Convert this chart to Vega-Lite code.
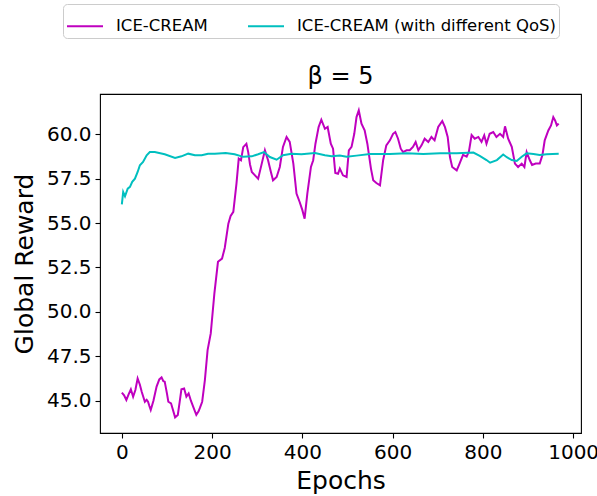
{
  "$schema": "https://vega.github.io/schema/vega-lite/v6.json",
  "width": 481,
  "height": 339,
  "autosize": "none",
  "padding": {"left": 100, "top": 94, "right": 16, "bottom": 63},
  "background": "white",
  "title": {"text": "β = 5", "fontSize": 24, "font": "DejaVu Sans", "fontWeight": "normal", "color": "black", "offset": -85, "anchor": "middle", "frame": "group"},
  "data": {"values": [
    {"s":"ICE-CREAM","e":0,"v":45.45},{"s":"ICE-CREAM","e":5,"v":45.3},{"s":"ICE-CREAM","e":10,"v":45.04},{"s":"ICE-CREAM","e":15,"v":45.35},{"s":"ICE-CREAM","e":20,"v":45.64},{"s":"ICE-CREAM","e":25,"v":45.22},{"s":"ICE-CREAM","e":30,"v":45.6},{"s":"ICE-CREAM","e":35,"v":46.25},{"s":"ICE-CREAM","e":40,"v":45.9},{"s":"ICE-CREAM","e":44,"v":45.5},{"s":"ICE-CREAM","e":51,"v":44.94},{"s":"ICE-CREAM","e":55,"v":45.05},{"s":"ICE-CREAM","e":58,"v":44.94},{"s":"ICE-CREAM","e":61,"v":44.7},{"s":"ICE-CREAM","e":64,"v":44.48},{"s":"ICE-CREAM","e":70,"v":45.0},{"s":"ICE-CREAM","e":77,"v":45.79},{"s":"ICE-CREAM","e":83,"v":46.2},{"s":"ICE-CREAM","e":88,"v":46.31},{"s":"ICE-CREAM","e":92,"v":46.1},{"s":"ICE-CREAM","e":95,"v":46.07},{"s":"ICE-CREAM","e":100,"v":45.4},{"s":"ICE-CREAM","e":103,"v":44.94},{"s":"ICE-CREAM","e":109,"v":44.85},{"s":"ICE-CREAM","e":113,"v":44.5},{"s":"ICE-CREAM","e":118,"v":44.06},{"s":"ICE-CREAM","e":124,"v":44.2},{"s":"ICE-CREAM","e":128,"v":44.9},{"s":"ICE-CREAM","e":132,"v":45.64},{"s":"ICE-CREAM","e":138,"v":45.69},{"s":"ICE-CREAM","e":143,"v":45.23},{"s":"ICE-CREAM","e":148,"v":45.41},{"s":"ICE-CREAM","e":153,"v":45.0},{"s":"ICE-CREAM","e":158,"v":44.66},{"s":"ICE-CREAM","e":165,"v":44.2},{"s":"ICE-CREAM","e":170,"v":44.4},{"s":"ICE-CREAM","e":173,"v":44.59},{"s":"ICE-CREAM","e":178,"v":44.94},{"s":"ICE-CREAM","e":184,"v":46.16},{"s":"ICE-CREAM","e":190,"v":47.85},{"s":"ICE-CREAM","e":197,"v":48.79},{"s":"ICE-CREAM","e":205,"v":51.03},{"s":"ICE-CREAM","e":213,"v":52.82},{"s":"ICE-CREAM","e":222,"v":53.0},{"s":"ICE-CREAM","e":228,"v":53.6},{"s":"ICE-CREAM","e":236,"v":54.97},{"s":"ICE-CREAM","e":241,"v":55.4},{"s":"ICE-CREAM","e":247,"v":55.63},{"s":"ICE-CREAM","e":254,"v":57.22},{"s":"ICE-CREAM","e":259,"v":58.63},{"s":"ICE-CREAM","e":264,"v":58.54},{"s":"ICE-CREAM","e":269,"v":59.28},{"s":"ICE-CREAM","e":276,"v":59.47},{"s":"ICE-CREAM","e":280,"v":59.0},{"s":"ICE-CREAM","e":284,"v":58.3},{"s":"ICE-CREAM","e":288,"v":57.88},{"s":"ICE-CREAM","e":295,"v":57.69},{"s":"ICE-CREAM","e":302,"v":57.5},{"s":"ICE-CREAM","e":310,"v":58.35},{"s":"ICE-CREAM","e":317,"v":59.1},{"s":"ICE-CREAM","e":324,"v":58.54},{"s":"ICE-CREAM","e":330,"v":57.9},{"s":"ICE-CREAM","e":335,"v":57.41},{"s":"ICE-CREAM","e":343,"v":57.6},{"s":"ICE-CREAM","e":350,"v":58.16},{"s":"ICE-CREAM","e":357,"v":59.29},{"s":"ICE-CREAM","e":365,"v":59.85},{"s":"ICE-CREAM","e":372,"v":59.57},{"s":"ICE-CREAM","e":380,"v":58.35},{"s":"ICE-CREAM","e":387,"v":56.66},{"s":"ICE-CREAM","e":394,"v":56.19},{"s":"ICE-CREAM","e":400,"v":55.73},{"s":"ICE-CREAM","e":405,"v":55.25},{"s":"ICE-CREAM","e":411,"v":56.66},{"s":"ICE-CREAM","e":419,"v":58.16},{"s":"ICE-CREAM","e":424,"v":58.54},{"s":"ICE-CREAM","e":429,"v":59.47},{"s":"ICE-CREAM","e":436,"v":60.41},{"s":"ICE-CREAM","e":442,"v":60.82},{"s":"ICE-CREAM","e":450,"v":60.31},{"s":"ICE-CREAM","e":456,"v":60.41},{"s":"ICE-CREAM","e":463,"v":59.47},{"s":"ICE-CREAM","e":468,"v":59.19},{"s":"ICE-CREAM","e":473,"v":57.82},{"s":"ICE-CREAM","e":479,"v":57.78},{"s":"ICE-CREAM","e":483,"v":58.07},{"s":"ICE-CREAM","e":490,"v":57.69},{"s":"ICE-CREAM","e":498,"v":57.6},{"s":"ICE-CREAM","e":503,"v":59.1},{"s":"ICE-CREAM","e":509,"v":59.29},{"s":"ICE-CREAM","e":515,"v":60.03},{"s":"ICE-CREAM","e":520,"v":60.97},{"s":"ICE-CREAM","e":525,"v":61.35},{"s":"ICE-CREAM","e":531,"v":60.6},{"s":"ICE-CREAM","e":538,"v":60.22},{"s":"ICE-CREAM","e":544,"v":59.47},{"s":"ICE-CREAM","e":552,"v":58.07},{"s":"ICE-CREAM","e":557,"v":57.41},{"s":"ICE-CREAM","e":564,"v":57.26},{"s":"ICE-CREAM","e":572,"v":57.13},{"s":"ICE-CREAM","e":579,"v":58.54},{"s":"ICE-CREAM","e":586,"v":59.38},{"s":"ICE-CREAM","e":594,"v":59.66},{"s":"ICE-CREAM","e":601,"v":60.03},{"s":"ICE-CREAM","e":606,"v":60.13},{"s":"ICE-CREAM","e":612,"v":59.75},{"s":"ICE-CREAM","e":618,"v":59.19},{"s":"ICE-CREAM","e":623,"v":59.0},{"s":"ICE-CREAM","e":631,"v":59.1},{"s":"ICE-CREAM","e":638,"v":59.1},{"s":"ICE-CREAM","e":645,"v":59.29},{"s":"ICE-CREAM","e":651,"v":59.57},{"s":"ICE-CREAM","e":657,"v":59.1},{"s":"ICE-CREAM","e":664,"v":59.38},{"s":"ICE-CREAM","e":671,"v":59.75},{"s":"ICE-CREAM","e":679,"v":59.57},{"s":"ICE-CREAM","e":686,"v":59.85},{"s":"ICE-CREAM","e":693,"v":59.66},{"s":"ICE-CREAM","e":701,"v":60.41},{"s":"ICE-CREAM","e":710,"v":60.75},{"s":"ICE-CREAM","e":716,"v":60.4},{"s":"ICE-CREAM","e":722,"v":59.85},{"s":"ICE-CREAM","e":727,"v":58.72},{"s":"ICE-CREAM","e":732,"v":58.16},{"s":"ICE-CREAM","e":742,"v":57.97},{"s":"ICE-CREAM","e":747,"v":58.27},{"s":"ICE-CREAM","e":756,"v":58.84},{"s":"ICE-CREAM","e":764,"v":58.74},{"s":"ICE-CREAM","e":769,"v":59.02},{"s":"ICE-CREAM","e":775,"v":59.96},{"s":"ICE-CREAM","e":782,"v":59.75},{"s":"ICE-CREAM","e":790,"v":59.85},{"s":"ICE-CREAM","e":797,"v":59.57},{"s":"ICE-CREAM","e":803,"v":59.94},{"s":"ICE-CREAM","e":808,"v":59.47},{"s":"ICE-CREAM","e":815,"v":60.03},{"s":"ICE-CREAM","e":823,"v":60.13},{"s":"ICE-CREAM","e":830,"v":59.85},{"s":"ICE-CREAM","e":838,"v":60.03},{"s":"ICE-CREAM","e":845,"v":59.85},{"s":"ICE-CREAM","e":849,"v":60.45},{"s":"ICE-CREAM","e":856,"v":59.75},{"s":"ICE-CREAM","e":864,"v":59.29},{"s":"ICE-CREAM","e":871,"v":58.35},{"s":"ICE-CREAM","e":878,"v":58.16},{"s":"ICE-CREAM","e":886,"v":58.35},{"s":"ICE-CREAM","e":892,"v":58.16},{"s":"ICE-CREAM","e":897,"v":59.0},{"s":"ICE-CREAM","e":904,"v":58.54},{"s":"ICE-CREAM","e":909,"v":58.27},{"s":"ICE-CREAM","e":917,"v":58.35},{"s":"ICE-CREAM","e":926,"v":58.35},{"s":"ICE-CREAM","e":932,"v":58.84},{"s":"ICE-CREAM","e":937,"v":59.66},{"s":"ICE-CREAM","e":945,"v":60.22},{"s":"ICE-CREAM","e":951,"v":60.5},{"s":"ICE-CREAM","e":956,"v":60.97},{"s":"ICE-CREAM","e":960,"v":60.78},{"s":"ICE-CREAM","e":964,"v":60.5},{"s":"ICE-CREAM","e":968,"v":60.6},
    {"s":"ICE-CREAM (with different QoS)","e":0,"v":56.06},{"s":"ICE-CREAM (with different QoS)","e":3,"v":56.75},{"s":"ICE-CREAM (with different QoS)","e":7,"v":56.51},{"s":"ICE-CREAM (with different QoS)","e":13,"v":56.94},{"s":"ICE-CREAM (with different QoS)","e":18,"v":57.04},{"s":"ICE-CREAM (with different QoS)","e":23,"v":57.32},{"s":"ICE-CREAM (with different QoS)","e":29,"v":57.5},{"s":"ICE-CREAM (with different QoS)","e":35,"v":57.88},{"s":"ICE-CREAM (with different QoS)","e":40,"v":58.26},{"s":"ICE-CREAM (with different QoS)","e":47,"v":58.44},{"s":"ICE-CREAM (with different QoS)","e":55,"v":58.82},{"s":"ICE-CREAM (with different QoS)","e":62,"v":59.0},{"s":"ICE-CREAM (with different QoS)","e":73,"v":59.0},{"s":"ICE-CREAM (with different QoS)","e":95,"v":58.88},{"s":"ICE-CREAM (with different QoS)","e":118,"v":58.67},{"s":"ICE-CREAM (with different QoS)","e":132,"v":58.76},{"s":"ICE-CREAM (with different QoS)","e":147,"v":58.91},{"s":"ICE-CREAM (with different QoS)","e":162,"v":58.82},{"s":"ICE-CREAM (with different QoS)","e":177,"v":58.82},{"s":"ICE-CREAM (with different QoS)","e":191,"v":58.91},{"s":"ICE-CREAM (with different QoS)","e":206,"v":58.91},{"s":"ICE-CREAM (with different QoS)","e":230,"v":58.95},{"s":"ICE-CREAM (with different QoS)","e":250,"v":58.88},{"s":"ICE-CREAM (with different QoS)","e":269,"v":58.73},{"s":"ICE-CREAM (with different QoS)","e":288,"v":58.76},{"s":"ICE-CREAM (with different QoS)","e":302,"v":58.88},{"s":"ICE-CREAM (with different QoS)","e":315,"v":59.0},{"s":"ICE-CREAM (with different QoS)","e":328,"v":58.72},{"s":"ICE-CREAM (with different QoS)","e":343,"v":58.57},{"s":"ICE-CREAM (with different QoS)","e":357,"v":58.82},{"s":"ICE-CREAM (with different QoS)","e":376,"v":58.91},{"s":"ICE-CREAM (with different QoS)","e":398,"v":58.88},{"s":"ICE-CREAM (with different QoS)","e":428,"v":58.95},{"s":"ICE-CREAM (with different QoS)","e":450,"v":58.82},{"s":"ICE-CREAM (with different QoS)","e":465,"v":58.76},{"s":"ICE-CREAM (with different QoS)","e":483,"v":58.8},{"s":"ICE-CREAM (with different QoS)","e":498,"v":58.74},{"s":"ICE-CREAM (with different QoS)","e":520,"v":58.8},{"s":"ICE-CREAM (with different QoS)","e":550,"v":58.89},{"s":"ICE-CREAM (with different QoS)","e":594,"v":58.89},{"s":"ICE-CREAM (with different QoS)","e":631,"v":58.93},{"s":"ICE-CREAM (with different QoS)","e":668,"v":58.89},{"s":"ICE-CREAM (with different QoS)","e":705,"v":58.93},{"s":"ICE-CREAM (with different QoS)","e":742,"v":58.93},{"s":"ICE-CREAM (with different QoS)","e":779,"v":58.97},{"s":"ICE-CREAM (with different QoS)","e":793,"v":58.78},{"s":"ICE-CREAM (with different QoS)","e":808,"v":58.55},{"s":"ICE-CREAM (with different QoS)","e":816,"v":58.4},{"s":"ICE-CREAM (with different QoS)","e":831,"v":58.55},{"s":"ICE-CREAM (with different QoS)","e":845,"v":58.86},{"s":"ICE-CREAM (with different QoS)","e":853,"v":58.71},{"s":"ICE-CREAM (with different QoS)","e":864,"v":58.55},{"s":"ICE-CREAM (with different QoS)","e":875,"v":58.5},{"s":"ICE-CREAM (with different QoS)","e":886,"v":58.74},{"s":"ICE-CREAM (with different QoS)","e":897,"v":58.93},{"s":"ICE-CREAM (with different QoS)","e":912,"v":58.89},{"s":"ICE-CREAM (with different QoS)","e":926,"v":58.84},{"s":"ICE-CREAM (with different QoS)","e":941,"v":58.88},{"s":"ICE-CREAM (with different QoS)","e":968,"v":58.9}
  ]},
  "mark": {"type": "line", "strokeWidth": 2, "clip": true},
  "encoding": {
    "x": {"field": "e", "type": "quantitative", "title": "Epochs",
      "scale": {"domain": [-48.4, 1017.4], "nice": false, "zero": false},
      "axis": {"values": [0, 200, 400, 600, 800, 1000], "format": "d", "titlePadding": 6}},
    "y": {"field": "v", "type": "quantitative", "title": "Global Reward",
      "scale": {"domain": [43.18, 62.27], "nice": false, "zero": false},
      "axis": {"values": [45, 47.5, 50, 52.5, 55, 57.5, 60], "format": ".1f", "titlePadding": 9}},
    "color": {"field": "s", "type": "nominal",
      "scale": {"domain": ["ICE-CREAM", "ICE-CREAM (with different QoS)"], "range": ["#bf00bf", "#00bfbf"]},
      "legend": {"title": null, "orient": "none", "legendX": -37, "legendY": -90, "direction": "horizontal",
        "symbolType": "stroke", "symbolSize": 1296, "symbolStrokeWidth": 2,
        "labelFontSize": 16.5, "labelFont": "DejaVu Sans", "labelColor": "black", "labelOffset": 12, "labelLimit": 400,
        "fillColor": "white", "strokeColor": "#cccccc", "cornerRadius": 4, "padding": 3, "columnPadding": 36}}
  },
  "config": {
    "font": "DejaVu Sans",
    "view": {"stroke": "black", "strokeWidth": 1.1},
    "axis": {"domain": false, "grid": false, "tickColor": "black", "tickWidth": 1.1, "tickSize": 5,
      "labelFont": "DejaVu Sans", "labelFontSize": 20, "labelColor": "black", "labelPadding": 4,
      "titleFont": "DejaVu Sans", "titleFontSize": 25, "titleFontWeight": "normal", "titleColor": "black"}
  }
}
